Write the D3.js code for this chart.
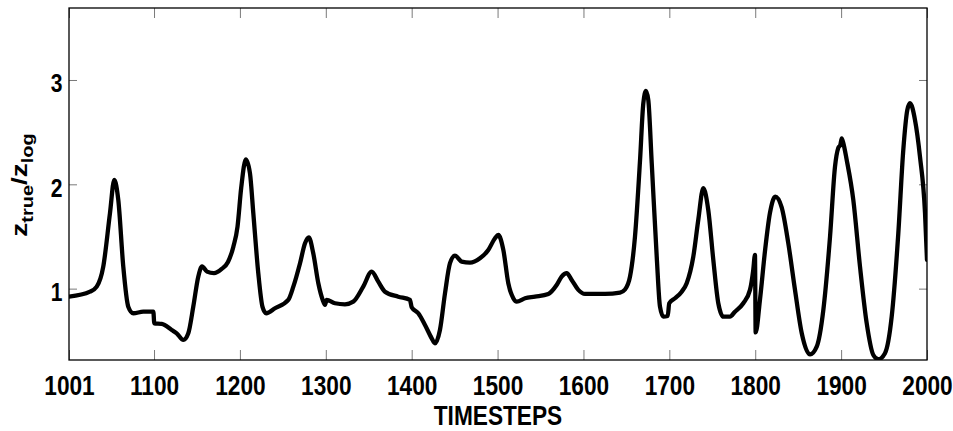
<!DOCTYPE html>
<html>
<head>
<meta charset="utf-8">
<script src="https://cdn.jsdelivr.net/npm/d3@7"></script>
<style>
  body { margin: 0; background: #fff; }
  svg { display: block; }
  text { font-family: "Liberation Sans", Arial, sans-serif; font-weight: bold; }
</style>
</head>
<body>
<div id="chart"></div>
<script>
const width = 953;
const height = 431;
const margin = { top: 8, right: 26, bottom: 71, left: 69 };

// timesteps and ratio values
const timesteps = [
  1001, 1025.5, 1033.3, 1040.9, 1048.7, 1053.7, 1058.4, 1064.2, 1070.0, 1075.9,
  1087.5, 1099.2, 1100.3, 1108.9, 1120.6, 1126.4, 1134.1, 1139.9, 1145.7, 1151.5,
  1155.9, 1161.7, 1169.8, 1178.8, 1186.1, 1192.3, 1197.2, 1201.5, 1206.9, 1211.7,
  1215.6, 1221.4, 1226.3, 1230.6, 1240.8, 1256.3, 1262.2, 1270.0, 1275.8, 1280.2,
  1285.4, 1291.3, 1296.4, 1299.1, 1301.0, 1310.7, 1322.3, 1332.0, 1343.6, 1353.4,
  1361.1, 1368.9, 1384.4, 1398.0, 1400.0, 1407.7, 1415.5, 1423.3, 1427.1, 1432.9,
  1438.8, 1444.6, 1450.4, 1458.2, 1467.9, 1479.5, 1489.2, 1497.0, 1500.8, 1506.7,
  1512.5, 1518.3, 1522.3, 1532.0, 1543.6, 1559.1, 1568.8, 1574.6, 1580.5, 1586.3,
  1594.0, 1601.8, 1625.1, 1642.6, 1648.4, 1654.2, 1660.0, 1665.9, 1669.7, 1672.8,
  1675.5, 1679.5, 1685.3, 1689.1, 1693.0, 1698.1, 1699.9, 1706.6, 1714.4, 1720.2,
  1727.9, 1733.7, 1739.5, 1745.3, 1751.2, 1757.0, 1762.8, 1770.6, 1776.4, 1786.1,
  1793.9, 1797.7, 1799.7, 1800.5, 1805.5, 1811.3, 1817.1, 1823.3, 1830.8, 1838.5,
  1846.3, 1854.1, 1863.8, 1871.6, 1879.3, 1887.1, 1892.9, 1896.7, 1899.1, 1900.7,
  1902.5, 1906.5, 1914.2, 1922.0, 1929.8, 1937.5, 1943.3, 1951.1, 1958.9, 1966.6,
  1972.4, 1977.1, 1980.2, 1986.0, 1991.8, 1997.7, 2000
];
const ratio = [
  0.923, 0.971, 1.019, 1.211, 1.723, 2.042, 1.850, 1.211, 0.827, 0.764,
  0.779, 0.779, 0.668, 0.662, 0.604, 0.572, 0.508, 0.572, 0.827, 1.115,
  1.213, 1.163, 1.148, 1.189, 1.256, 1.400, 1.594, 1.966, 2.239, 2.106,
  1.723, 1.148, 0.825, 0.764, 0.812, 0.892, 1.019, 1.244, 1.435, 1.491,
  1.339, 1.052, 0.892, 0.844, 0.892, 0.860, 0.850, 0.875, 1.019, 1.163,
  1.067, 0.971, 0.923, 0.892, 0.822, 0.764, 0.652, 0.524, 0.476, 0.604,
  0.956, 1.244, 1.316, 1.259, 1.249, 1.291, 1.371, 1.483, 1.515, 1.371,
  1.052, 0.908, 0.875, 0.908, 0.923, 0.949, 1.035, 1.115, 1.148, 1.083,
  0.988, 0.949, 0.949, 0.962, 0.992, 1.115, 1.499, 2.234, 2.778, 2.896,
  2.809, 2.202, 1.307, 0.827, 0.732, 0.738, 0.860, 0.908, 0.971, 1.052,
  1.307, 1.659, 1.963, 1.755, 1.275, 0.860, 0.732, 0.732, 0.779, 0.860,
  0.988, 1.179, 1.323, 0.580, 0.892, 1.355, 1.723, 1.882, 1.779, 1.435,
  0.988, 0.575, 0.369, 0.444, 0.796, 1.499, 2.170, 2.349, 2.378, 2.440,
  2.397, 2.234, 1.850, 1.211, 0.668, 0.364, 0.323, 0.381, 0.732, 1.531,
  2.330, 2.713, 2.778, 2.618, 2.266, 1.723, 1.275
];
const xTicks = [1001, 1100, 1200, 1300, 1400, 1500, 1600, 1700, 1800, 1900, 2000];
const yTicks = [1, 2, 3];
const xDomain = [1001, 2000];
const yDomain = [0.316, 3.69];

const data = timesteps.map((t, i) => ({ t: t, v: ratio[i] }));

const squeeze = 0.81; // the original figure text is horizontally narrow

const svg = d3.select("#chart")
  .append("svg")
  .attr("width", width)
  .attr("height", height);

const x = d3.scaleLinear()
  .domain(xDomain)
  .range([margin.left, width - margin.right]);

const y = d3.scaleLinear()
  .domain(yDomain)
  .range([height - margin.bottom, margin.top]);

svg.append("defs").append("clipPath")
  .attr("id", "plot-clip")
  .append("rect")
  .attr("x", margin.left)
  .attr("y", margin.top)
  .attr("width", width - margin.left - margin.right)
  .attr("height", height - margin.top - margin.bottom);

// inward ticks on all four sides
const xAxis = svg.append("g")
  .attr("transform", `translate(0,${height - margin.bottom})`)
  .call(d3.axisBottom(x).tickValues(xTicks).tickFormat(d3.format("d"))
    .tickSize(-10).tickPadding(15));

svg.append("g")
  .attr("transform", `translate(0,${margin.top})`)
  .call(d3.axisTop(x).tickValues(xTicks).tickFormat("").tickSize(-10));

const yAxis = svg.append("g")
  .attr("transform", `translate(${margin.left},0)`)
  .call(d3.axisLeft(y).tickValues(yTicks).tickFormat(d3.format("d"))
    .tickSize(-8).tickPadding(8));

svg.append("g")
  .attr("transform", `translate(${width - margin.right},0)`)
  .call(d3.axisRight(y).tickValues(yTicks).tickFormat("").tickSize(-8));

svg.selectAll(".domain").remove();
svg.selectAll(".tick line").attr("stroke", "#7a7a7a").attr("stroke-width", 1);

xAxis.selectAll(".tick text")
  .attr("fill", "#000")
  .style("font-size", "28px")
  .attr("transform", `scale(${squeeze},1)`);

yAxis.selectAll(".tick text")
  .attr("fill", "#000")
  .style("font-size", "26px")
  .attr("dy", "0.45em")
  .attr("transform", `scale(${squeeze},1)`);

// frame
svg.append("rect")
  .attr("x", margin.left)
  .attr("y", margin.top)
  .attr("width", width - margin.left - margin.right)
  .attr("height", height - margin.top - margin.bottom)
  .attr("fill", "none")
  .attr("stroke", "#000")
  .attr("stroke-width", 1.3);

const line = d3.line()
  .x(d => x(d.t))
  .y(d => y(d.v))
  .curve(d3.curveMonotoneX);

svg.append("path")
  .datum(data)
  .attr("clip-path", "url(#plot-clip)")
  .attr("fill", "none")
  .attr("stroke", "#000")
  .attr("stroke-width", 4.3)
  .attr("stroke-linejoin", "round")
  .attr("stroke-linecap", "round")
  .attr("d", line);

// axis titles
svg.append("text")
  .attr("x", (margin.left + width - margin.right) / 2)
  .attr("y", 425)
  .attr("text-anchor", "middle")
  .attr("transform", `translate(${(margin.left + width - margin.right) / 2 * (1 - squeeze)},0) scale(${squeeze},1)`)
  .style("font-size", "28px")
  .text("TIMESTEPS");

const yLabel = svg.append("text")
  .attr("text-anchor", "middle")
  .attr("transform", `translate(27,185) scale(${squeeze},1) rotate(-90)`)
  .style("font-size", "28px");
yLabel.append("tspan").text("z");
yLabel.append("tspan").attr("dy", 7).style("font-size", "20px").text("true");
yLabel.append("tspan").attr("dy", -7).text("/z");
yLabel.append("tspan").attr("dy", 7).style("font-size", "20px").text("log");
</script>
</body>
</html>
